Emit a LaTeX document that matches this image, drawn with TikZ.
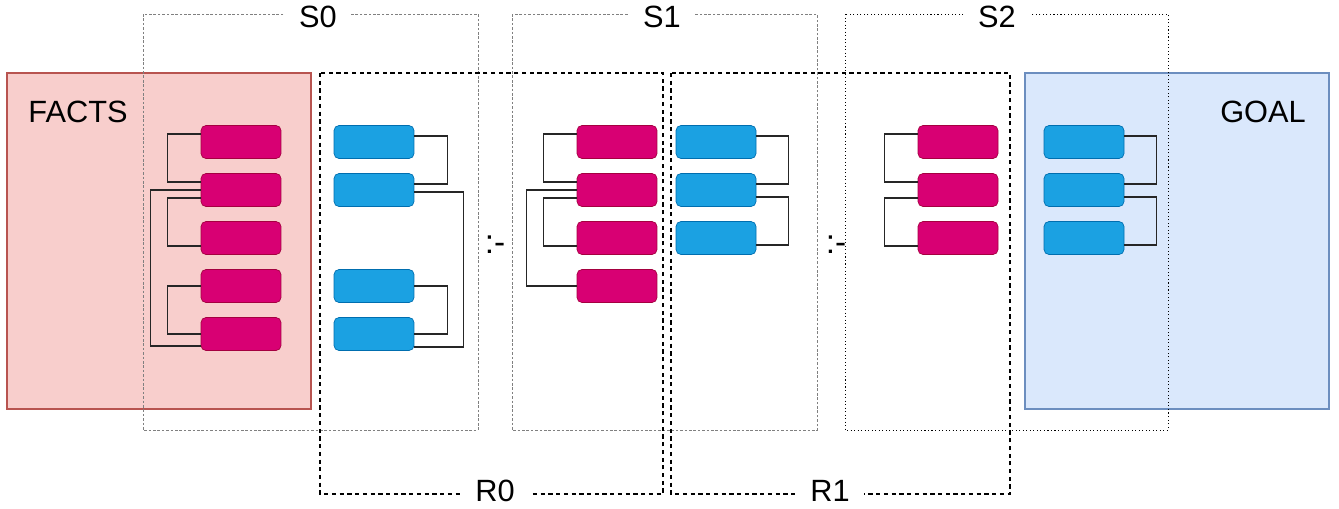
\documentclass[tikz,border=0pt]{standalone}
\usepackage{fontspec}
\setmainfont{Liberation Sans}
\usetikzlibrary{calc}

\definecolor{factfill}{HTML}{F8CECC}
\definecolor{factline}{HTML}{B85450}
\definecolor{goalfill}{HTML}{DAE8FC}
\definecolor{goalline}{HTML}{6C8EBF}
\definecolor{headfill}{HTML}{D80073}
\definecolor{headline}{HTML}{A50040}
\definecolor{bodyfill}{HTML}{1BA1E2}
\definecolor{bodyline}{HTML}{006EAF}

\tikzset{
  atom/.style={rectangle,rounded corners=0.1cm,line width=0.4pt,minimum width=1.6cm,minimum height=0.66cm,inner sep=0pt},
  pinkatom/.style={atom,fill=headfill,draw=headline},
  blueatom/.style={atom,fill=bodyfill,draw=bodyline},
  link/.style={black!85,line width=0.6pt},
  stepframe/.style={black!50,line width=0.5pt,dash pattern=on 1.5pt off 1pt},
  lastframe/.style={black,line width=0.5pt,dash pattern=on 0.6pt off 1.4pt},
  ruleframe/.style={black,line width=0.6pt,dash pattern=on 2.4pt off 2pt},
  bigtext/.style={font=\fontsize{17.5}{20}\selectfont},
  tag/.style={bigtext,fill=white,inner ysep=1pt,inner xsep=8pt}
}

\begin{document}
\begin{tikzpicture}[x=0.02cm,y=-0.02cm]
\useasboundingbox (0,0) rectangle (1339,508);
\begin{scope}[]
\draw[fill=factfill,draw=factline,line width=0.7pt] (7,73) rectangle (311,409);
\draw[fill=goalfill,draw=goalline,line width=0.7pt] (1025,73) rectangle (1329,409);
\node[bigtext] (facts) at (78,112) {FACTS};
\node[bigtext] (goal) at (1263,112) {GOAL};
\end{scope}
\begin{scope}[]
\draw[stepframe] (143,14) rectangle (478,430);
\draw[stepframe] (512,14) rectangle (817,430);
\draw[lastframe] (845,14) rectangle (1168,430);
\draw[ruleframe] (320,73) rectangle (663,494);
\draw[ruleframe] (671,73) rectangle (1010,494);
\node[tag] (s0) at (318,17) {S0};
\node[tag] (s1) at (662,17) {S1};
\node[tag] (s2) at (997,17) {S2};
\node[tag] (r0) at (495,491) {R0};
\node[tag] (r1) at (830,491) {R1};
\node[bigtext,font=\fontsize{19}{20}\selectfont] (sep0) at (495,245) {:-};
\node[bigtext,font=\fontsize{19}{20}\selectfont] (sep1) at (836,245) {:-};
\end{scope}
\begin{scope}[]
\node[pinkatom] (p11) at (241,142) {};
\node[pinkatom] (p12) at (241,190) {};
\node[pinkatom] (p13) at (241,238) {};
\node[pinkatom] (p14) at (241,286) {};
\node[pinkatom] (p15) at (241,334) {};
\node[blueatom] (b11) at (374,142) {};
\node[blueatom] (b12) at (374,190) {};
\node[blueatom] (b14) at (374,286) {};
\node[blueatom] (b15) at (374,334) {};
\draw[link] ($(p11.west)+(0,-8)$) -- ++(-33,0) |- ($(p12.west)+(0,-8)$);
\draw[link] (p12.west) -- ++(-50,0) |- ($(p15.west)+(0,12)$);
\draw[link] ($(p12.west)+(0,8)$) -- ++(-33,0) |- ($(p13.west)+(0,8)$);
\draw[link] (p14.west) -- ++(-33,0) |- (p15.west);
\draw[link] ($(b11.east)+(0,-6)$) -- ++(33,0) |- ($(b12.east)+(0,-6)$);
\draw[link] ($(b12.east)+(0,2)$) -- ++(49,0) |- ($(b15.east)+(0,13)$);
\draw[link] (b14.east) -- ++(33,0) |- (b15.east);
\end{scope}
\begin{scope}[]
\node[pinkatom] (p21) at (617,142) {};
\node[pinkatom] (p22) at (617,190) {};
\node[pinkatom] (p23) at (617,238) {};
\node[pinkatom] (p24) at (617,286) {};
\node[blueatom] (b21) at (716,142) {};
\node[blueatom] (b22) at (716,190) {};
\node[blueatom] (b23) at (716,238) {};
\draw[link] ($(p21.west)+(0,-8)$) -- ++(-33,0) |- ($(p22.west)+(0,-8)$);
\draw[link] (p22.west) -- ++(-50,0) |- (p24.west);
\draw[link] ($(p22.west)+(0,8)$) -- ++(-33,0) |- ($(p23.west)+(0,8)$);
\draw[link] ($(b21.east)+(0,-6)$) -- ++(32,0) |- ($(b22.east)+(0,-6)$);
\draw[link] ($(b22.east)+(0,7)$) -- ++(32,0) |- ($(b23.east)+(0,7)$);
\end{scope}
\begin{scope}[]
\node[pinkatom] (p31) at (958,142) {};
\node[pinkatom] (p32) at (958,190) {};
\node[pinkatom] (p33) at (958,238) {};
\node[blueatom] (b31) at (1084,142) {};
\node[blueatom] (b32) at (1084,190) {};
\node[blueatom] (b33) at (1084,238) {};
\draw[link] ($(p31.west)+(0,-8)$) -- ++(-33,0) |- ($(p32.west)+(0,-8)$);
\draw[link] ($(p32.west)+(0,8)$) -- ++(-33,0) |- ($(p33.west)+(0,8)$);
\draw[link] ($(b31.east)+(0,-6)$) -- ++(32,0) |- ($(b32.east)+(0,-6)$);
\draw[link] ($(b32.east)+(0,7)$) -- ++(32,0) |- ($(b33.east)+(0,7)$);
\end{scope}
\end{tikzpicture}
\end{document}
